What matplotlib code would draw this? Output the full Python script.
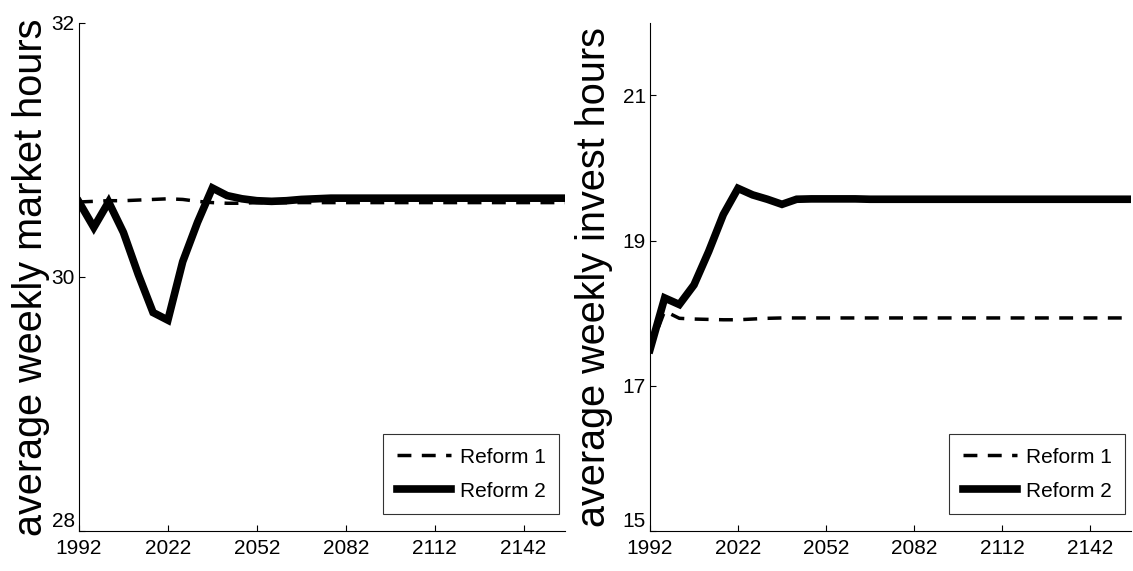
import matplotlib
matplotlib.use("Agg")
import matplotlib.pyplot as plt

plt.rcParams['font.family'] = ['Liberation Sans', 'DejaVu Sans']

# simulation years, 5-year steps
years = [1992, 1997, 2002, 2007, 2012, 2017, 2022, 2027, 2032, 2037,
         2042, 2047, 2052, 2057, 2062, 2067, 2072, 2077, 2082, 2087,
         2092, 2097, 2102, 2107, 2112, 2117, 2122, 2127, 2132, 2137,
         2142, 2147, 2152, 2157]

# average weekly market hours
market_r1 = [30.59, 30.595, 30.60, 30.60, 30.605, 30.61, 30.615, 30.61, 30.595, 30.585,
             30.58, 30.58, 30.585, 30.585, 30.585, 30.585, 30.585, 30.585, 30.585, 30.585,
             30.585, 30.585, 30.585, 30.585, 30.585, 30.585, 30.585, 30.585, 30.585, 30.585,
             30.585, 30.585, 30.585, 30.585]
market_r2 = [30.59, 30.39, 30.59, 30.35, 30.02, 29.72, 29.66, 30.12, 30.43, 30.70,
             30.64, 30.615, 30.60, 30.595, 30.60, 30.61, 30.615, 30.62, 30.62, 30.62,
             30.62, 30.62, 30.62, 30.62, 30.62, 30.62, 30.62, 30.62, 30.62, 30.62,
             30.62, 30.62, 30.62, 30.62]

# average weekly invest hours
invest_r1 = [17.50, 18.03, 17.93, 17.92, 17.915, 17.91, 17.91, 17.92, 17.93, 17.935,
             17.935, 17.935, 17.935, 17.935, 17.935, 17.935, 17.935, 17.935, 17.935, 17.935,
             17.935, 17.935, 17.935, 17.935, 17.935, 17.935, 17.935, 17.935, 17.935, 17.935,
             17.935, 17.935, 17.935, 17.935]
invest_r2 = [17.50, 18.21, 18.12, 18.39, 18.85, 19.36, 19.72, 19.63, 19.57, 19.50,
             19.57, 19.575, 19.575, 19.575, 19.575, 19.57, 19.57, 19.57, 19.57, 19.57,
             19.57, 19.57, 19.57, 19.57, 19.57, 19.57, 19.57, 19.57, 19.57, 19.57,
             19.57, 19.57, 19.57, 19.57]

xticks = [1992, 2022, 2052, 2082, 2112, 2142]

fig = plt.figure(figsize=(11.33, 5.71), dpi=100)
ax1 = fig.add_axes([0.0697, 0.070, 0.429, 0.890])
ax2 = fig.add_axes([0.5737, 0.070, 0.4245, 0.890])

def style(ax, r1, r2, ylim, yticks, ylabel, labx):
    ax.plot(years, r1, color='black', lw=2.5, linestyle=(0, (4, 3)), label='Reform 1')
    ax.plot(years, r2, color='black', lw=5.5, solid_joinstyle='miter', label='Reform 2')
    ax.set_xlim(1992, 2156)
    ax.set_ylim(*ylim)
    ax.set_xticks(xticks)
    ax.set_yticks(yticks)
    ax.tick_params(direction='in', length=4, width=0.8, labelsize=15)
    ax.tick_params(axis='x', pad=6)
    ax.tick_params(axis='y', pad=3)
    # lift the bottom y label clear of the first year label
    ax.get_yticklabels()[0].set_verticalalignment('bottom')
    for s in ['top', 'right']:
        ax.spines[s].set_visible(False)
    for s in ['left', 'bottom']:
        ax.spines[s].set_linewidth(0.8)
    ax.set_ylabel(ylabel, fontsize=28.5)
    ax.yaxis.set_label_coords(labx, 0.5)
    leg = ax.legend(loc='lower right', bbox_to_anchor=(0.988, 0.033), fontsize=15,
                    handlelength=2.6, frameon=True, fancybox=False, borderpad=0.65,
                    labelspacing=0.72, handletextpad=0.43, borderaxespad=0)
    leg.get_frame().set_edgecolor('black')
    leg.get_frame().set_linewidth(0.8)

style(ax1, market_r1, market_r2, (28, 32), [28, 30, 32],
      'average weekly market hours', -0.060)
style(ax2, invest_r1, invest_r2, (15, 22), [15, 17, 19, 21],
      'average weekly invest hours', -0.077)

fig.savefig('out.png', dpi=100)
